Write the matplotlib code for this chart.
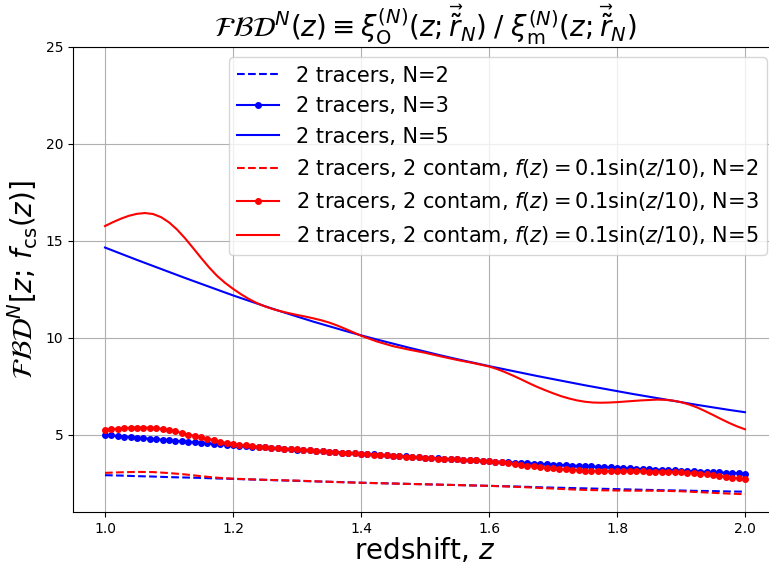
import numpy as np
import matplotlib
matplotlib.use('Agg')
import matplotlib.pyplot as plt

# redshift grids
z_line = [1.0, 1.025, 1.05, 1.075, 1.1, 1.125, 1.15, 1.175, 1.2, 1.225, 1.25,
          1.275, 1.3, 1.325, 1.35, 1.375, 1.4, 1.425, 1.45, 1.475, 1.5, 1.525,
          1.55, 1.575, 1.6, 1.625, 1.65, 1.675, 1.7, 1.725, 1.75, 1.775, 1.8,
          1.825, 1.85, 1.875, 1.9, 1.925, 1.95, 1.975, 2.0]
z_dots = [round(1.0 + 0.01 * i, 2) for i in range(101)]
# finer sampling where the contaminated N=5 curve wiggles
z_fine = [1.0, 1.0125, 1.025, 1.0375, 1.05, 1.0625, 1.075, 1.0875, 1.1,
          1.1125, 1.125, 1.1375, 1.15, 1.1625, 1.175, 1.1875, 1.2, 1.2125,
          1.225, 1.2375, 1.25, 1.2625, 1.275, 1.2875, 1.3, 1.3125, 1.325,
          1.3375, 1.35, 1.3625, 1.375, 1.3875, 1.4, 1.425, 1.45, 1.475, 1.5,
          1.525, 1.55, 1.575, 1.6, 1.6125, 1.625, 1.6375, 1.65, 1.6625, 1.675,
          1.6875, 1.7, 1.7125, 1.725, 1.7375, 1.75, 1.7625, 1.775, 1.7875,
          1.8, 1.8125, 1.825, 1.8375, 1.85, 1.8625, 1.875, 1.8875, 1.9,
          1.9125, 1.925, 1.9375, 1.95, 1.9625, 1.975, 1.9875, 2.0]

# 2 tracers
fbd_n2 = [2.90, 2.88, 2.85, 2.83, 2.80, 2.78, 2.76, 2.73, 2.71, 2.68, 2.66,
          2.63, 2.61, 2.58, 2.56, 2.54, 2.51, 2.49, 2.47, 2.45, 2.43, 2.41,
          2.39, 2.37, 2.35, 2.33, 2.31, 2.28, 2.26, 2.24, 2.22, 2.20, 2.18,
          2.16, 2.14, 2.12, 2.11, 2.09, 2.08, 2.06, 2.05]
fbd_n3 = [4.98, 4.95, 4.92, 4.89, 4.87, 4.84, 4.81, 4.78, 4.76, 4.73,
          4.70, 4.67, 4.65, 4.62, 4.59, 4.57, 4.54, 4.52, 4.49, 4.47,
          4.44, 4.42, 4.40, 4.37, 4.35, 4.33, 4.31, 4.28, 4.26, 4.24,
          4.22, 4.20, 4.18, 4.16, 4.13, 4.11, 4.09, 4.07, 4.05, 4.03,
          4.01, 3.99, 3.97, 3.95, 3.93, 3.91, 3.89, 3.87, 3.85, 3.83,
          3.81, 3.79, 3.77, 3.75, 3.73, 3.71, 3.70, 3.68, 3.66, 3.64,
          3.62, 3.60, 3.59, 3.57, 3.55, 3.53, 3.52, 3.50, 3.48, 3.47,
          3.45, 3.43, 3.42, 3.40, 3.38, 3.37, 3.35, 3.33, 3.32, 3.30,
          3.29, 3.27, 3.25, 3.24, 3.22, 3.21, 3.19, 3.18, 3.16, 3.15,
          3.13, 3.12, 3.10, 3.09, 3.07, 3.06, 3.04, 3.03, 3.01, 3.00,
          2.98]
fbd_n5 = [14.65, 14.33, 14.01, 13.70, 13.39, 13.08, 12.78, 12.48, 12.18,
          11.90, 11.62, 11.35, 11.09, 10.83, 10.59, 10.35, 10.12, 9.90, 9.69,
          9.48, 9.28, 9.08, 8.89, 8.71, 8.53, 8.36, 8.19, 8.02, 7.86, 7.70,
          7.54, 7.39, 7.24, 7.09, 6.95, 6.81, 6.67, 6.53, 6.40, 6.27, 6.15]

# 2 tracers + 2 contaminants
fbdc_n2 = [3.02, 3.05, 3.07, 3.06, 3.01, 2.94, 2.85, 2.77, 2.72, 2.69, 2.66,
           2.64, 2.62, 2.59, 2.56, 2.53, 2.51, 2.49, 2.47, 2.45, 2.43, 2.41,
           2.39, 2.37, 2.35, 2.32, 2.29, 2.25, 2.21, 2.17, 2.14, 2.12, 2.11,
           2.10, 2.10, 2.09, 2.07, 2.03, 1.99, 1.95, 1.92]
fbdc_n3 = [5.24, 5.28, 5.30, 5.33, 5.35, 5.36, 5.36, 5.35, 5.33, 5.29,
           5.23, 5.16, 5.08, 5.00, 4.93, 4.86, 4.78, 4.71, 4.63, 4.56,
           4.51, 4.47, 4.44, 4.41, 4.38, 4.35, 4.32, 4.29, 4.27, 4.25,
           4.23, 4.21, 4.19, 4.17, 4.15, 4.12, 4.10, 4.07, 4.05, 4.03,
           4.01, 3.99, 3.96, 3.94, 3.92, 3.90, 3.88, 3.86, 3.84, 3.82,
           3.80, 3.78, 3.76, 3.74, 3.72, 3.71, 3.69, 3.67, 3.66, 3.64,
           3.62, 3.59, 3.56, 3.52, 3.48, 3.44, 3.40, 3.36, 3.32, 3.28,
           3.25, 3.22, 3.20, 3.18, 3.16, 3.14, 3.13, 3.12, 3.11, 3.11,
           3.10, 3.10, 3.10, 3.10, 3.10, 3.09, 3.09, 3.08, 3.07, 3.06,
           3.04, 3.02, 3.00, 2.97, 2.94, 2.90, 2.86, 2.82, 2.78, 2.74,
           2.70]
fbdc_n5 = [15.76, 15.96, 16.14, 16.29, 16.39, 16.43, 16.38, 16.22, 15.95,
           15.58, 15.13, 14.63, 14.12, 13.63, 13.19, 12.83, 12.52, 12.24,
           11.99, 11.78, 11.61, 11.47, 11.36, 11.26, 11.17, 11.09, 11.00,
           10.90, 10.78, 10.63, 10.46, 10.28, 10.10, 9.80, 9.56, 9.38, 9.22,
           9.03, 8.85, 8.69, 8.51, 8.38, 8.22, 8.04, 7.85, 7.65, 7.46, 7.29,
           7.13, 6.98, 6.86, 6.76, 6.69, 6.65, 6.64, 6.65, 6.67, 6.70, 6.73,
           6.76, 6.78, 6.80, 6.79, 6.75, 6.67, 6.55, 6.40, 6.21, 6.01, 5.80,
           5.60, 5.42, 5.27]

contam = r'2 tracers, 2 contam, $f(z) = 0.1 \sin(z/10)$'

fig = plt.figure(figsize=(7.69, 5.65), dpi=100)
ax = fig.add_axes([73 / 769, 53 / 565, 704 / 769, 465 / 565])

ax.plot(z_line, fbd_n2, '--', color='b', label='2 tracers, N=2')
ax.plot(z_dots, fbd_n3, '.-', color='b', markersize=8, label='2 tracers, N=3')
ax.plot(z_line, fbd_n5, '-', color='b', label='2 tracers, N=5')
ax.plot(z_line, fbdc_n2, '--', color='r', label=contam + ', N=2')
ax.plot(z_dots, fbdc_n3, '.-', color='r', markersize=8, label=contam + ', N=3')
ax.plot(z_fine, fbdc_n5, '-', color='r', label=contam + ', N=5')

ax.set_xlim(0.95, 2.05)
ax.set_ylim(1.0, 25)
ax.set_xticks([1.0, 1.2, 1.4, 1.6, 1.8, 2.0])
ax.set_yticks([5, 10, 15, 20, 25])
ax.grid(True)

ax.set_xlabel(r'redshift, $z$', fontsize=20, labelpad=0)
ax.set_ylabel(r'$\mathcal{FBD}^N[z;\, f_{\rm cs}(z)]$', fontsize=20)
ax.set_title(r'$\mathcal{FBD}^N(z) \equiv \xi_{\rm O}^{(N)}(z;\vec{\tilde{r}}_N)\;/\;\xi_{\rm m}^{(N)}(z;\vec{\tilde{r}}_N)$',
             fontsize=20)
ax.legend(loc='upper right', fontsize=15)

fig.savefig('out.png', dpi=100)
